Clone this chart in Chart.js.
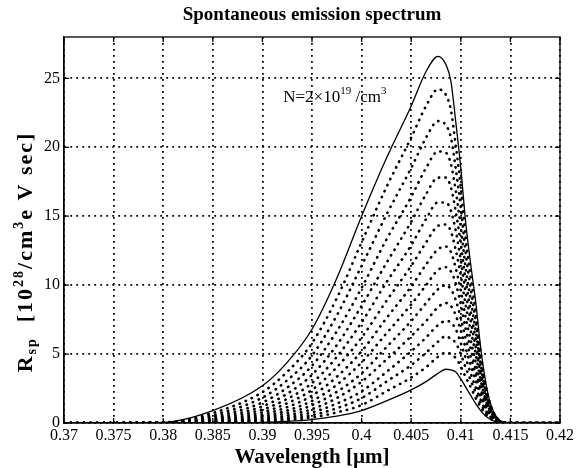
<!DOCTYPE html>
<html>
<head>
<meta charset="utf-8">
<script src="https://cdn.jsdelivr.net/npm/chart.js@4.4.1/dist/chart.umd.min.js"></script>
<style>
  html, body { margin: 0; padding: 0; background: #fff; }
  #wrap { width: 584px; height: 468px; }
</style>
</head>
<body>
<div id="wrap"><canvas id="c"></canvas></div>
<script>
// Wavelength grid (um) shared by every curve
const wavelength = [0.37, 0.38, 0.385, 0.39, 0.3925, 0.395, 0.3975, 0.4, 0.4025, 0.405, 0.4065, 0.4077, 0.4085,
                    0.409, 0.4095, 0.41, 0.4105, 0.411, 0.4115, 0.412, 0.4125, 0.413, 0.4135, 0.414, 0.415, 0.42];

// Highest density, N = 2x10^19 /cm^3 (solid)
const rspTop    = [0, 0.05, 0.9, 2.7, 4.4, 6.8, 10.5, 15.0, 19.2, 23.0, 25.5, 26.6, 26.0, 24.8, 21.8, 18.5, 14.5, 11.5, 8.8, 5.5, 3.0, 1.4, 0.55, 0.15, 0, 0];
// Lowest density (solid)
const rspBottom = [0, 0, 0.01, 0.05, 0.12, 0.25, 0.5, 0.9, 1.6, 2.4, 3.0, 3.6, 3.9, 3.85, 3.7, 3.2, 2.6, 2.0, 1.4, 0.9, 0.5, 0.25, 0.1, 0.03, 0, 0];

// Intermediate densities (dotted), high to low
const dotted1  = [0, 0.04, 0.73, 2.24, 3.71, 5.8, 9.05, 13.1, 17.1, 20.7, 23.0, 24.2, 23.8, 22.7, 20.1, 17.1, 13.4, 10.6, 8.1, 5.05, 2.75, 1.29, 0.51, 0.14, 0, 0];
const dotted2  = [0, 0.04, 0.58, 1.84, 3.10, 4.9, 7.8, 11.4, 15.1, 18.5, 20.7, 21.9, 21.6, 20.7, 18.4, 15.6, 12.3, 9.7, 7.4, 4.6, 2.5, 1.18, 0.46, 0.13, 0, 0];
const dotted3  = [0, 0.03, 0.46, 1.49, 2.57, 4.15, 6.65, 9.8, 13.3, 16.4, 18.5, 19.7, 19.6, 18.8, 16.8, 14.2, 11.2, 8.9, 6.7, 4.2, 2.3, 1.08, 0.43, 0.12, 0, 0];
const dotted4  = [0, 0.03, 0.36, 1.21, 2.12, 3.5, 5.65, 8.5, 11.6, 14.6, 16.6, 17.8, 17.8, 17.1, 15.3, 13.0, 10.3, 8.1, 6.1, 3.8, 2.1, 0.99, 0.39, 0.11, 0, 0];
const dotted5  = [0, 0.02, 0.29, 0.98, 1.75, 2.9, 4.8, 7.3, 10.2, 12.9, 14.8, 16.0, 16.0, 15.4, 13.9, 11.8, 9.4, 7.4, 5.5, 3.5, 1.9, 0.90, 0.36, 0.10, 0, 0];
const dotted6  = [0, 0.02, 0.22, 0.78, 1.43, 2.4, 4.05, 6.2, 8.85, 11.4, 13.1, 14.3, 14.4, 13.9, 12.5, 10.7, 8.5, 6.7, 5.0, 3.1, 1.7, 0.82, 0.32, 0.09, 0, 0];
const dotted7  = [0, 0.02, 0.17, 0.61, 1.15, 1.98, 3.35, 5.2, 7.6, 9.9, 11.5, 12.6, 12.8, 12.4, 11.2, 9.6, 7.6, 6.0, 4.4, 2.8, 1.55, 0.74, 0.29, 0.08, 0, 0];
const dotted8  = [0, 0.01, 0.13, 0.47, 0.91, 1.6, 2.77, 4.4, 6.5, 8.6, 10.0, 11.1, 11.3, 11.0, 10.1, 8.6, 6.8, 5.4, 3.9, 2.5, 1.37, 0.66, 0.26, 0.07, 0, 0];
const dotted9  = [0, 0.01, 0.09, 0.36, 0.72, 1.29, 2.26, 3.6, 5.5, 7.4, 8.7, 9.7, 10.0, 9.7, 8.9, 7.6, 6.1, 4.8, 3.5, 2.2, 1.2, 0.59, 0.23, 0.07, 0, 0];
const dotted10 = [0, 0.01, 0.07, 0.27, 0.55, 1.01, 1.81, 3.0, 4.6, 6.3, 7.4, 8.4, 8.7, 8.5, 7.8, 6.7, 5.4, 4.2, 3.1, 1.9, 1.07, 0.52, 0.21, 0.06, 0, 0];
const dotted11 = [0, 0.01, 0.05, 0.20, 0.41, 0.77, 1.41, 2.3, 3.7, 5.2, 6.2, 7.1, 7.4, 7.3, 6.8, 5.8, 4.7, 3.6, 2.6, 1.7, 0.92, 0.45, 0.18, 0.05, 0, 0];
const dotted12 = [0, 0, 0.03, 0.14, 0.30, 0.57, 1.07, 1.8, 3.0, 4.2, 5.1, 5.9, 6.3, 6.1, 5.8, 5.0, 4.0, 3.1, 2.2, 1.4, 0.78, 0.38, 0.15, 0.045, 0, 0];
const dotted13 = [0, 0, 0.02, 0.09, 0.20, 0.40, 0.77, 1.3, 2.3, 3.3, 4.05, 4.8, 5.1, 5.0, 4.7, 4.1, 3.3, 2.6, 1.8, 1.16, 0.64, 0.32, 0.13, 0.04, 0, 0];

const dottedCurves = [dotted1, dotted2, dotted3, dotted4, dotted5, dotted6, dotted7,
                      dotted8, dotted9, dotted10, dotted11, dotted12, dotted13];

const SERIF = '"Liberation Serif", "Times New Roman", serif';

const pts = ys => wavelength.map((x, i) => ({ x, y: ys[i] }));

const datasets = dottedCurves.map(ys => ({
    data: pts(ys), borderColor: "#000", borderWidth: 2.6,
    borderDash: [0.4, 6.2], borderCapStyle: "round",
    pointRadius: 0, cubicInterpolationMode: "monotone",
}));
for (const ys of [rspBottom, rspTop]) {
    datasets.push({
        data: pts(ys), borderColor: "#000", borderWidth: 1.3,
        pointRadius: 0, cubicInterpolationMode: "monotone",
    });
}

// draw a run of text pieces [text, size, weight, dy] side by side
function drawRich(ctx, parts, x, y, align) {
    let w = 0;
    for (const p of parts) {
        ctx.font = `${p[2]} ${p[1]}px ${SERIF}`;
        w += ctx.measureText(p[0]).width;
    }
    let cx = align === "center" ? x - w / 2 : x;
    for (const p of parts) {
        ctx.font = `${p[2]} ${p[1]}px ${SERIF}`;
        ctx.fillText(p[0], cx, y + p[3]);
        cx += ctx.measureText(p[0]).width;
    }
}

const frame = {
    id: "frame",
    afterDraw(chart) {
        const { ctx, chartArea: a, scales: { x, y } } = chart;
        ctx.save();
        ctx.strokeStyle = "#000";
        ctx.lineWidth = 1.3;
        ctx.strokeRect(a.left, a.top, a.width, a.height);

        // MATLAB style inward ticks on all four sides
        ctx.beginPath();
        for (const t of x.ticks) {
            const px = x.getPixelForValue(t.value);
            ctx.moveTo(px, a.bottom); ctx.lineTo(px, a.bottom - 5);
            ctx.moveTo(px, a.top);    ctx.lineTo(px, a.top + 5);
        }
        for (const t of y.ticks) {
            const py = y.getPixelForValue(t.value);
            ctx.moveTo(a.left, py);  ctx.lineTo(a.left + 5, py);
            ctx.moveTo(a.right, py); ctx.lineTo(a.right - 5, py);
        }
        ctx.stroke();

        ctx.fillStyle = "#000";
        ctx.textBaseline = "alphabetic";
        ctx.textAlign = "left";
        const mid = (a.left + a.right) / 2;
        drawRich(ctx, [["Spontaneous emission spectrum", 19, "bold", 0]], mid, 20, "center");
        drawRich(ctx, [["Wavelength [\u00b5m]", 21, "bold", 0]], mid, 463, "center");

        // density label next to the top curve
        drawRich(ctx, [
            ["N=2\u00d710", 17, "normal", 0], ["19", 11, "normal", -8],
            [" /cm", 17, "normal", 0], ["3", 11, "normal", -8],
        ], x.getPixelForValue(0.3921), y.getPixelForValue(23.3), "left");

        ctx.save();
        ctx.translate(24, 252);
        ctx.rotate(-Math.PI / 2);
        ctx.letterSpacing = "2px";
        drawRich(ctx, [
            ["R", 22, "bold", 0], ["sp", 14, "bold", 4],
            ["  [10", 22, "bold", 0], ["28", 14, "bold", -9],
            ["/cm", 22, "bold", 0], ["3", 14, "bold", -9],
            ["e V sec]", 22, "bold", 0],
        ], 0, 8, "center");
        ctx.restore();
        ctx.restore();
    },
};

const gridStyle = { color: "#000", lineWidth: 1.8, drawTicks: false };

new Chart(document.getElementById("c"), {
    type: "line",
    data: { datasets },
    options: {
        responsive: true,
        maintainAspectRatio: false,
        animation: false,
        devicePixelRatio: 1,
        layout: { padding: { top: 37, right: 24, left: 0, bottom: 0 } },
        plugins: { legend: { display: false }, tooltip: { enabled: false }, title: { display: false } },
        scales: {
            x: {
                type: "linear", min: 0.37, max: 0.42,
                grid: gridStyle,
                border: { display: true, color: "#000", width: 1.3, dash: [1.8, 4.2] },
                ticks: {
                    stepSize: 0.005, color: "#000", padding: 3, maxRotation: 0, autoSkip: false,
                    font: { family: SERIF, size: 16 },
                    callback: v => String(+v.toFixed(3)),
                },
                afterFit: s => { s.height = 45; },
            },
            y: {
                type: "linear", min: 0, max: 28,
                grid: gridStyle,
                border: { display: true, color: "#000", width: 1.3, dash: [1.8, 4.2] },
                ticks: {
                    stepSize: 5, includeBounds: false, color: "#000", padding: 4,
                    font: { family: SERIF, size: 16 },
                },
                afterFit: s => { s.width = 64; },
            },
        },
    },
    plugins: [frame],
});
</script>
</body>
</html>
